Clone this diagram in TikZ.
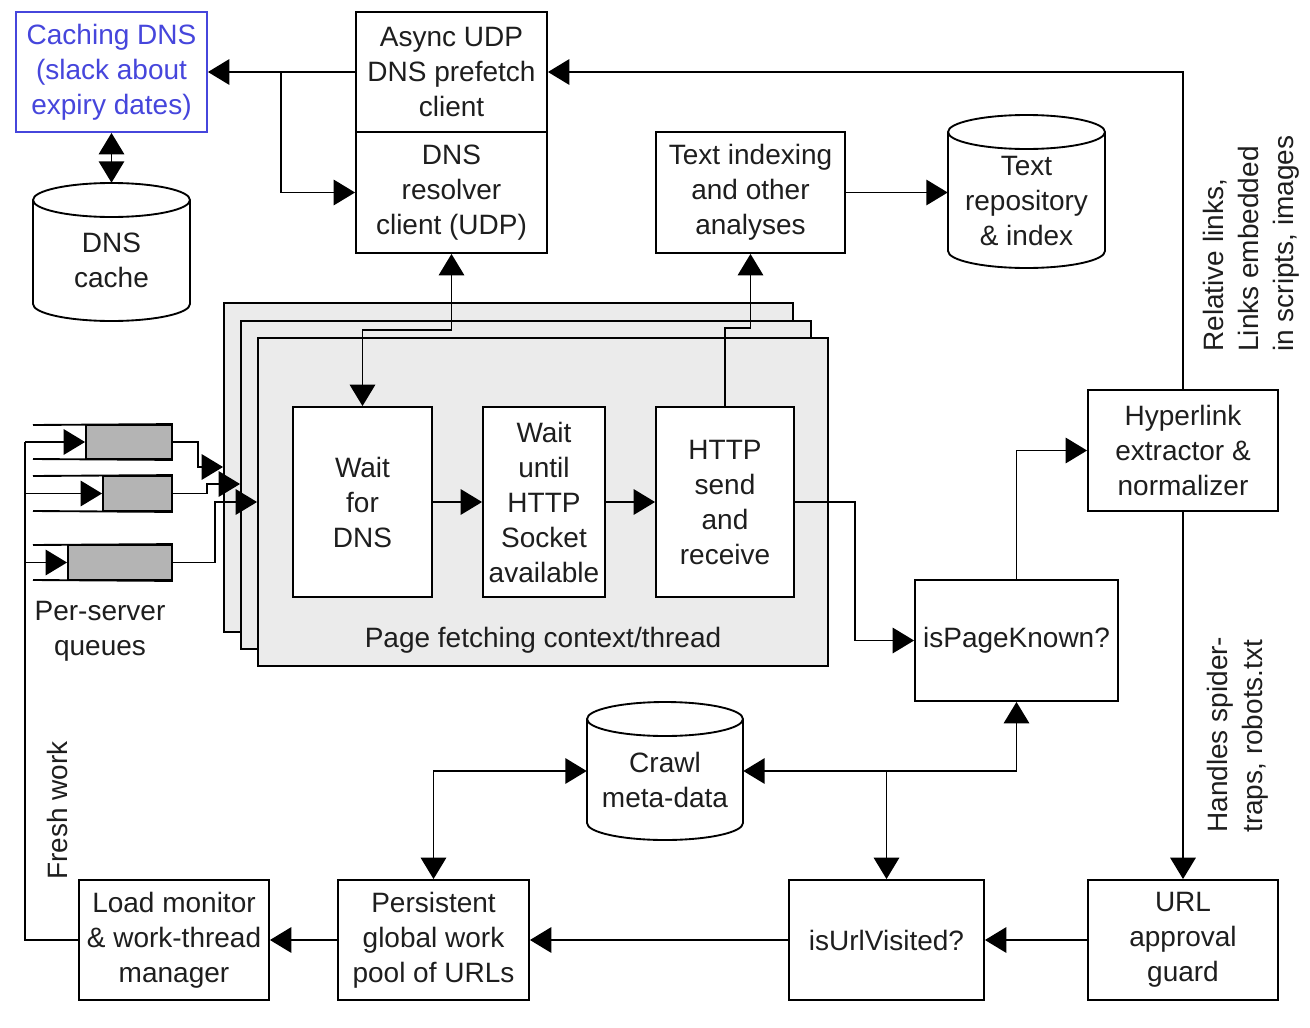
\documentclass[tikz,border=0pt]{standalone}
\usepackage{fontspec}
\setmainfont{Liberation Sans}
\usetikzlibrary{arrows.meta,calc}
\definecolor{framegray}{HTML}{EBEBEB}
\definecolor{qgray}{HTML}{B4B4B4}
\definecolor{dnsblue}{HTML}{4646DC}
\definecolor{txt}{HTML}{1E1E1E}
% \bx[style]{x1}{y1}{x2}{y2}{name} {text};
\newcommand\bx[6][box]{\node[#1,minimum width={(#4-#2)*0.75pt},minimum height={(#5-#3)*0.75pt}] (#6) at ({(#2+#4)/2},{(#3+#5)/2})}
\newcommand\drawcyl[4]{%
  \pgfmathsetmacro\cylrx{(#2-#1)/2}%
  \pgfmathsetmacro\cylyt{#3+17}%
  \pgfmathsetmacro\cylyb{#4-17}%
  \filldraw[ln,fill=white] (#1,\cylyt) -- (#1,\cylyb) arc[start angle=180,end angle=0,x radius=\cylrx,y radius=17] -- (#2,\cylyt) arc[start angle=0,end angle=-180,x radius=\cylrx,y radius=17] -- cycle;
  \draw[ln] (#1,\cylyt) arc[start angle=180,end angle=0,x radius=\cylrx,y radius=17];
}
\begin{document}
\begin{tikzpicture}[x=0.75pt,y=-0.75pt,
  every node/.style={font=\fontsize{21}{26.25}\selectfont, text=txt},
  ln/.style={line width=1.4pt},
  box/.style={draw, line width=1.4pt, fill=white, inner sep=0pt, align=center},
  bluebox/.style={box, draw=dnsblue, text=dnsblue},
  arr/.style={ln, -{Triangle[length=16pt,width=19pt]}},
  darr/.style={ln, {Triangle[length=16pt,width=19pt]}-{Triangle[length=16pt,width=19pt]}},
  framebox/.style={draw, line width=1.4pt, fill=framegray, inner sep=0pt},
  queue/.style={draw, line width=1.4pt, fill=qgray, inner sep=0pt},
  anch/.style={inner sep=0pt, align=center},
  lbl/.style={inner sep=0pt, align=left}]

\useasboundingbox[fill=white] (0,0) rectangle (1310,1028);

% page fetching frames
\bx[framebox]{224}{303}{793}{632}{f1} {};
\bx[framebox]{241}{321}{811}{649}{f2} {};
\bx[framebox]{258}{338}{828}{666}{f3} {};
\node[anch] (pftxt) at (543,640) {Page fetching context/thread};

% boxes
\bx[bluebox]{16}{12}{207}{132}{caching} {Caching DNS\\(slack about\\expiry dates)};
\bx{356}{12}{547}{132}{async} {Async UDP\\DNS prefetch\\client};
\bx{356}{132}{547}{253}{resolver} {DNS\\resolver\\client (UDP)};
\bx{656}{132}{845}{253}{textidx} {Text indexing\\and other\\analyses};
\bx{293}{407}{432}{597}{waitdns} {Wait\\for\\DNS};
\bx{483}{407}{605}{597}{waithttp} {Wait\\until\\HTTP\\Socket\\available};
\bx{656}{407}{794}{597}{http} {HTTP\\send\\and\\receive};
\bx{915}{580}{1118}{701}{pk} {isPageKnown?};
\bx{1088}{390}{1278}{511}{hyper} {Hyperlink\\extractor \&\\normalizer};
\bx{1088}{880}{1278}{1000}{url} {URL\\approval\\guard};
\bx{789}{880}{984}{1000}{visited} {isUrlVisited?};
\bx{338}{880}{529}{1000}{persist} {Persistent\\global work\\pool of URLs};
\bx{79}{880}{269}{1000}{load} {Load monitor\\\& work-thread\\manager};

% cylinders
\drawcyl{33}{190}{183}{321}
\bx[anch]{33}{183}{190}{321}{dnscache} {};
\node[anch] (dnscachet) at (111.5,260) {DNS\\cache};
\drawcyl{948}{1105}{115}{268}
\bx[anch]{948}{115}{1105}{268}{repo} {};
\node[anch] (repot) at (1026.5,201.5) {Text\\repository\\\& index};
\drawcyl{587}{743}{702}{840}
\bx[anch]{587}{702}{743}{840}{crawl} {};
\node[anch] (crawlt) at (665,779.5) {Crawl\\meta-data};

% queues
\bx[queue]{86}{425}{172}{459}{q1} {};
\bx[queue]{103}{476}{172}{511}{q2} {};
\bx[queue]{68}{545}{172}{580}{q3} {};
\draw[ln] (33,425) -- (q1.north east) (33,459) -- (q1.south east);
\draw[ln] (33,476) -- (q2.north east) (33,511) -- (q2.south east);
\draw[ln] (33,545) -- (q3.north east) (33,580) -- (q3.south east);
\node[anch] (pslbl) at (100,631) {Per-server\\queues};

% labels
\node[lbl, rotate=90, anchor=west] (freshlbl) at (57,880) {Fresh work};
\node[lbl, rotate=90, anchor=west] (rellbl) at (1251,352) {Relative links,\\Links embedded\\in scripts, images};
\node[lbl, rotate=90, anchor=west] (spiderlbl) at (1238,833) {Handles spider-\\traps, robots.txt};

% connectors
\coordinate (j1) at (281,72);
\draw[arr] (async.west) -- (caching.east);
\draw[arr] (j1) |- (resolver.west);
\draw[arr] (hyper.north) |- (async.east);
\draw[darr] (caching.south) -- (dnscache.north);
\draw[darr] (resolver.south) -- ++(0,76) -| (waitdns.north);
\draw[arr] (http.north) -- ++(0,-78) -| (textidx.south);
\draw[arr] (textidx.east) -- (textidx.east -| repo.west);
\draw[arr] (waitdns.east) -- (waithttp.west);
\draw[arr] (waithttp.east) -- (http.west);
\draw[arr] (http.east) -- ++(60,0) |- (pk.west);
\draw[arr] (pk.north) |- (hyper.west);
\draw[arr] (hyper.south) -- (url.north);
\draw[arr] (url.west) -- (visited.east);
\draw[arr] (visited.west) -- (persist.east);
\draw[arr] (persist.west) -- (load.east);
\draw[darr] (persist.north) |- (crawl.west);
\coordinate (j2) at (visited.north |- crawl.east);
\draw[arr] (j2) -- (crawl.east);
\draw[arr] (j2) -| (pk.south);
\draw[arr] (j2) -- (visited.north);

% fresh work loop
\coordinate (fw) at (25,940);
\draw[ln] (load.west) -- (fw) -- (fw |- q1.west);
\draw[arr] (fw |- q1.west) -- (q1.west);
\draw[arr] (fw |- q2.west) -- (q2.west);
\draw[arr] (fw |- q3.west) -- (q3.west);
\draw[arr] (q1.east) -| (198,467) -- (f1.west |- 198,467);
\draw[arr] (q2.east) -| (207,484) -- (f2.west |- 207,484);
\draw[arr] (q3.east) -| (215,502) -- (f3.west |- 215,502);
\end{tikzpicture}
\end{document}
